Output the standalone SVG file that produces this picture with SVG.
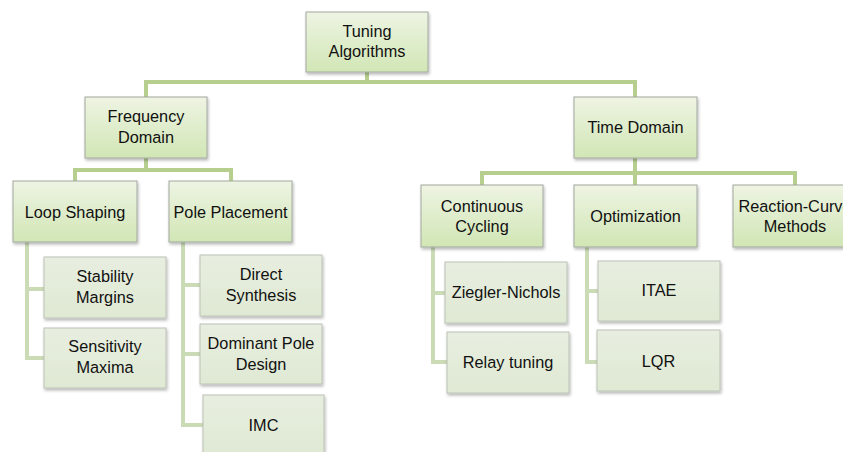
<svg xmlns="http://www.w3.org/2000/svg" width="843" height="452" viewBox="0 0 843 452">
  <defs>
    <linearGradient id="gUp" x1="0" y1="0" x2="0" y2="1">
      <stop offset="0" stop-color="#eef4e3"/>
      <stop offset="1" stop-color="#d1e6b5"/>
    </linearGradient>
    <linearGradient id="gLeaf" x1="0" y1="0" x2="0" y2="1">
      <stop offset="0" stop-color="#e8eee0"/>
      <stop offset="1" stop-color="#dfe9d3"/>
    </linearGradient>
    <filter id="shadow" x="-10%" y="-10%" width="125%" height="135%">
      <feDropShadow dx="1" dy="2" stdDeviation="1.4" flood-color="#000" flood-opacity="0.28"/>
    </filter>
  </defs>
  <style>
    .up { fill: url(#gUp); stroke: #a3a8a0; stroke-width: 1; filter: url(#shadow); }
    .leaf { fill: url(#gLeaf); stroke: #bcc2b6; stroke-width: 1; filter: url(#shadow); }
    .wire { fill: none; stroke: #b6cf8f; stroke-width: 4; }
    .wire2 { fill: none; stroke: #cbdbb6; stroke-width: 4; }
    text { font-family: "Liberation Sans", Arial, sans-serif; font-size: 16.3px; fill: #111111; text-anchor: middle; }
  </style>

  <rect width="843" height="452" fill="#ffffff"/>

  <!-- connectors -->
  <g id="connectors">
    <path class="wire" d="M367 72 V82 M144 82 H637 M146 82 V97 M635 82 V97"/>
    <path class="wire" d="M146 158 V170 M73 170 H233 M75 170 V181 M231 170 V181"/>
    <path class="wire" d="M635 158 V185 M480 173 H797 M482 173 V185 M795 173 V185"/>
    <path class="wire2" d="M27 242 V358 H44 M27 289 H44"/>
    <path class="wire2" d="M183 242 V425 H203 M183 285 H200 M183 354 H200"/>
    <path class="wire2" d="M433 247 V362 H447 M433 293 H445"/>
    <path class="wire2" d="M587 247 V362 H597 M587 291 H598"/>
  </g>

  <!-- root -->
  <g id="tuning-algorithms">
    <rect class="up" x="306" y="12" width="122" height="60"/>
    <text x="367" y="37">Tuning</text>
    <text x="367" y="57">Algorithms</text>
  </g>

  <!-- frequency domain branch -->
  <g id="frequency-domain">
    <rect class="up" x="85" y="97" width="122" height="61"/>
    <text x="146" y="122">Frequency</text>
    <text x="146" y="143">Domain</text>
  </g>
  <g id="loop-shaping">
    <rect class="up" x="13" y="181" width="124" height="61"/>
    <text x="75" y="218">Loop Shaping</text>
  </g>
  <g id="pole-placement">
    <rect class="up" x="169" y="181" width="123" height="61"/>
    <text x="230.5" y="218">Pole Placement</text>
  </g>
  <g id="stability-margins">
    <rect class="leaf" x="44" y="257" width="122" height="61"/>
    <text x="105" y="282">Stability</text>
    <text x="105" y="303">Margins</text>
  </g>
  <g id="sensitivity-maxima">
    <rect class="leaf" x="44" y="328" width="122" height="60"/>
    <text x="105" y="352">Sensitivity</text>
    <text x="105" y="373">Maxima</text>
  </g>
  <g id="direct-synthesis">
    <rect class="leaf" x="200" y="255" width="122" height="61"/>
    <text x="261" y="280">Direct</text>
    <text x="261" y="301">Synthesis</text>
  </g>
  <g id="dominant-pole-design">
    <rect class="leaf" x="200" y="324" width="122" height="60"/>
    <text x="261" y="349">Dominant Pole</text>
    <text x="261" y="370">Design</text>
  </g>
  <g id="imc">
    <rect class="leaf" x="203" y="395" width="121" height="61"/>
    <text x="263.5" y="431">IMC</text>
  </g>

  <!-- time domain branch -->
  <g id="time-domain">
    <rect class="up" x="574" y="97" width="123" height="61"/>
    <text x="635.5" y="133">Time Domain</text>
  </g>
  <g id="continuous-cycling">
    <rect class="up" x="421" y="185" width="122" height="62"/>
    <text x="482" y="212">Continuous</text>
    <text x="482" y="232">Cycling</text>
  </g>
  <g id="optimization">
    <rect class="up" x="574" y="185" width="123" height="62"/>
    <text x="635.5" y="222">Optimization</text>
  </g>
  <g id="reaction-curve-methods">
    <rect class="up" x="733" y="185" width="124" height="62"/>
    <text x="795" y="212">Reaction-Curve</text>
    <text x="795" y="232">Methods</text>
  </g>
  <g id="ziegler-nichols">
    <rect class="leaf" x="445" y="262" width="122" height="61"/>
    <text x="506" y="298">Ziegler-Nichols</text>
  </g>
  <g id="relay-tuning">
    <rect class="leaf" x="447" y="332" width="122" height="61"/>
    <text x="508" y="368">Relay tuning</text>
  </g>
  <g id="itae">
    <rect class="leaf" x="598" y="261" width="122" height="60"/>
    <text x="659" y="296">ITAE</text>
  </g>
  <g id="lqr">
    <rect class="leaf" x="597" y="330" width="123" height="61"/>
    <text x="658.5" y="367">LQR</text>
  </g>
</svg>
